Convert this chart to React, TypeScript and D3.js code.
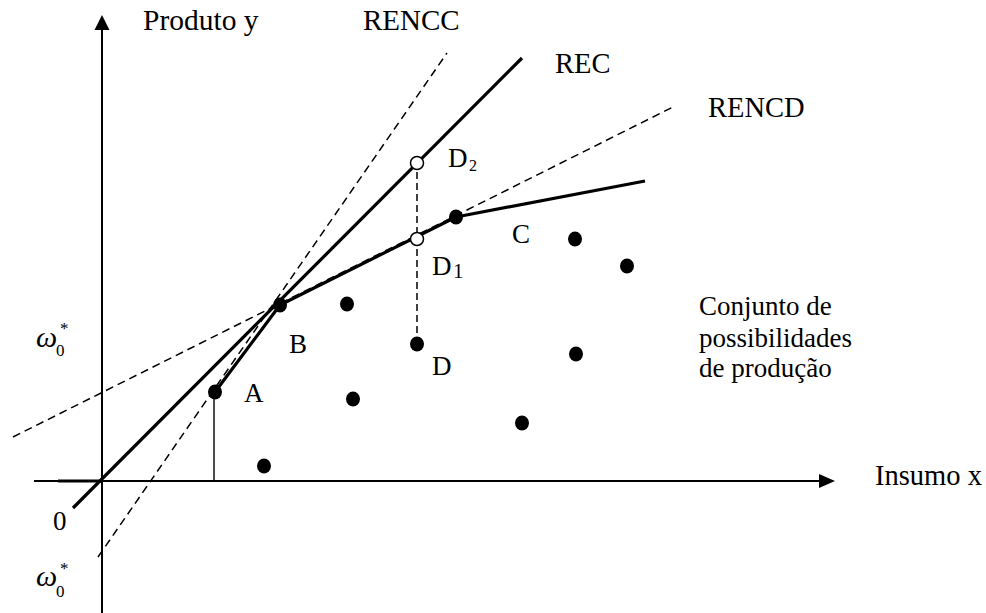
import React from "react";
import * as d3 from "d3";

// Data (units: input x, output y)
const observedNames = ["A", "B", "C", "D"];
const observedX = [2.825, 4.45, 8.85, 7.875];
const observedY = [2.225, 4.4, 6.6, 3.425];

const otherX = [6.125, 11.825, 13.125, 11.85, 6.275, 10.5, 4.05];
const otherY = [4.425, 6.05, 5.375, 3.175, 2.05, 1.45, 0.375];

const projX = [7.875, 7.875];
const projY = [6.05, 7.95]; // D1, D2

const frontierX = [2.825, 4.45, 8.85, 13.575];
const frontierY = [2.225, 4.4, 6.6, 7.5];

const recX = [-0.725, 10.5];
const recY = [-0.675, 10.575];
const renccX = [-0.1, 8.625];
const renccY = [-1.9, 10.7];
const rencdX = [-2.225, 14.325];
const rencdY = [1.1, 9.375];

const W = 986;
const H = 613;

export default function App() {
  const x = d3.scaleLinear().domain([0, 20]).range([102, 902]);
  const y = d3.scaleLinear().domain([0, 12]).range([481, 1]);
  const line = d3
    .line<[number, number]>()
    .x((d) => x(d[0]))
    .y((d) => y(d[1]));
  const pts = (xs: number[], ys: number[]) =>
    xs.map((v, i) => [v, ys[i]] as [number, number]);

  const font = "'Liberation Serif', 'Times New Roman', serif";
  const fs = 27;

  const ox = x(0);
  const oy = y(0);

  return (
    <svg
      width={W}
      height={H}
      style={{ position: "absolute", left: 0, top: 0, background: "#fff" }}
      fontFamily={font}
    >
      <rect width={W} height={H} fill="#fff" />
      {/* axes */}
      <line x1={ox} y1={H} x2={ox} y2={28} stroke="#000" strokeWidth={2} />
      <path d={`M${ox},15 L${ox - 7.5},30 L${ox + 7.5},30 Z`} fill="#000" />
      <line x1={34} y1={oy} x2={822} y2={oy} stroke="#000" strokeWidth={2} />
      <line x1={58} y1={oy} x2={ox} y2={oy} stroke="#000" strokeWidth={3} />
      <path d={`M835,${oy} L819,${oy - 7} L819,${oy + 7} Z`} fill="#000" />

      {/* dashed rays */}
      <path
        d={line(pts(renccX, renccY)) || ""}
        fill="none"
        stroke="#000"
        strokeWidth={1.5}
        strokeDasharray="8,5"
      />
      <path
        d={line(pts(rencdX, rencdY)) || ""}
        fill="none"
        stroke="#000"
        strokeWidth={1.5}
        strokeDasharray="8,5"
      />
      {/* REC */}
      <path
        d={line(pts(recX, recY)) || ""}
        fill="none"
        stroke="#000"
        strokeWidth={3.2}
      />
      {/* frontier */}
      <path
        d={line(pts(frontierX, frontierY)) || ""}
        fill="none"
        stroke="#000"
        strokeWidth={3.2}
        strokeLinejoin="round"
      />
      {/* vertical from A */}
      <line
        x1={x(observedX[0]) - 1}
        y1={y(observedY[0])}
        x2={x(observedX[0]) - 1}
        y2={oy}
        stroke="#000"
        strokeWidth={1.4}
      />
      {/* dashed projection D -> D2 */}
      <line
        x1={x(observedX[3])}
        y1={y(observedY[3])}
        x2={x(projX[1])}
        y2={y(projY[1])}
        stroke="#000"
        strokeWidth={1.5}
        strokeDasharray="7,4"
      />

      {/* other DMUs */}
      {otherX.map((v, i) => (
        <ellipse
          key={"o" + i}
          cx={x(v)}
          cy={y(otherY[i])}
          rx={7}
          ry={7.5}
          fill="#000"
        />
      ))}
      {observedX.map((v, i) => (
        <ellipse
          key={"p" + i}
          cx={x(v)}
          cy={y(observedY[i])}
          rx={7}
          ry={7.5}
          fill="#000"
        />
      ))}
      {projX.map((v, i) => (
        <circle
          key={"h" + i}
          cx={x(v)}
          cy={y(projY[i])}
          r={6.5}
          fill="#fff"
          stroke="#000"
          strokeWidth={1.5}
        />
      ))}

      {/* labels */}
      <g fontSize={fs} fill="#000">
        <text x={143} y={30} fontSize={29.5}>Produto y</text>
        <text x={363} y={30} fontSize={29}>RENCC</text>
        <text x={555} y={73} fontSize={28.5}>REC</text>
        <text x={708} y={117} fontSize={28.5}>RENCD</text>
        <text x={875} y={485} fontSize={28.5}>Insumo x</text>
        <text x={699} y={315}>Conjunto de</text>
        <text x={699} y={347}>possibilidades</text>
        <text x={699} y={377}>de produção</text>
        <text x={244} y={402}>{observedNames[0]}</text>
        <text x={289} y={353}>{observedNames[1]}</text>
        <text x={512} y={243}>{observedNames[2]}</text>
        <text x={432} y={375}>{observedNames[3]}</text>
        <text x={448} y={167}>D</text>
        <text x={469} y={171} fontSize={16}>2</text>
        <text x={432} y={275}>D</text>
        <text x={453} y={278} fontSize={21}>1</text>
        <text x={53} y={530}>0</text>

        <text x={36} y={347} fontStyle="italic" fontSize={30}>ω</text>
        <text x={56} y={356} fontSize={17}>0</text>
        <text x={60} y={334} fontSize={17}>*</text>

        <text x={36} y={586} fontStyle="italic" fontSize={30}>ω</text>
        <text x={56} y={597} fontSize={17}>0</text>
        <text x={60} y={574} fontSize={17}>*</text>
      </g>
    </svg>
  );
}
